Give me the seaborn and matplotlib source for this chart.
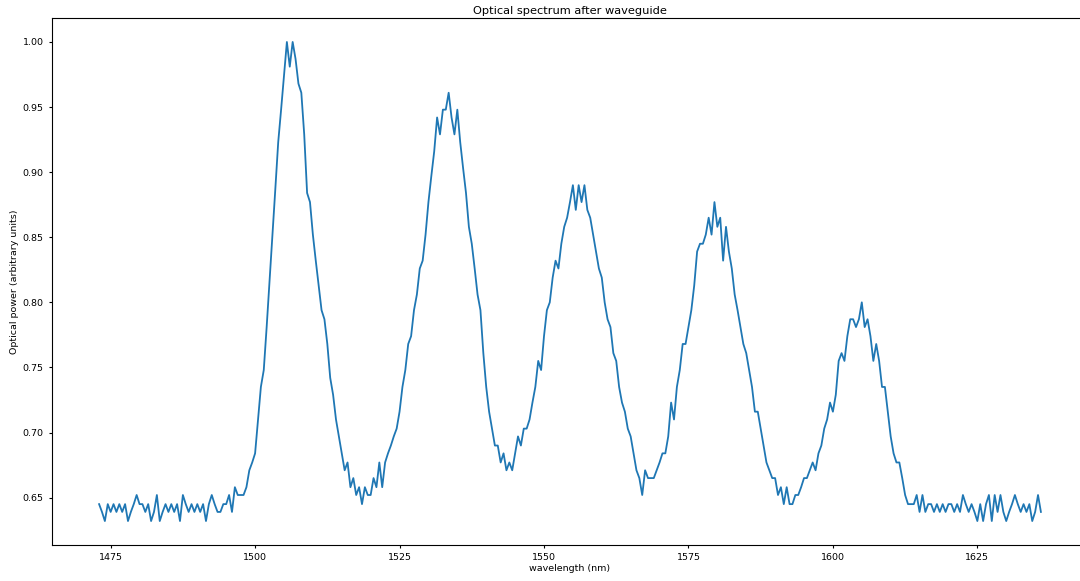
import numpy as np
import pandas as pd
import matplotlib
matplotlib.use("Agg")
import matplotlib.pyplot as plt
from matplotlib.ticker import MultipleLocator
import seaborn as sns

# Wavelength grid (nm): start, stop of the measured spectrum
wl_start = 1473.0
wl_stop = 1636.0

power = [
    0.645, 0.639, 0.632, 0.645, 0.639, 0.645, 0.639, 0.645, 0.639, 0.645,
    0.632, 0.639, 0.645, 0.652, 0.645, 0.645, 0.639, 0.645, 0.632, 0.639,
    0.652, 0.632, 0.639, 0.645, 0.639, 0.645, 0.639, 0.645, 0.632, 0.652,
    0.645, 0.639, 0.645, 0.639, 0.645, 0.639, 0.645, 0.632, 0.645, 0.652,
    0.645, 0.639, 0.639, 0.645, 0.645, 0.652, 0.639, 0.658, 0.652, 0.652,
    0.652, 0.658, 0.671, 0.677, 0.684, 0.710, 0.735, 0.748, 0.781, 0.816,
    0.852, 0.887, 0.923, 0.948, 0.974, 1.000, 0.981, 1.000, 0.987, 0.968,
    0.961, 0.929, 0.884, 0.877, 0.852, 0.832, 0.813, 0.794, 0.787, 0.768,
    0.742, 0.729, 0.710, 0.697, 0.684, 0.671, 0.677, 0.658, 0.665, 0.652,
    0.658, 0.645, 0.658, 0.652, 0.652, 0.665, 0.658, 0.677, 0.658, 0.677,
    0.684, 0.690, 0.697, 0.703, 0.716, 0.735, 0.748, 0.768, 0.774, 0.794,
    0.806, 0.826, 0.832, 0.852, 0.877, 0.897, 0.916, 0.942, 0.929, 0.948,
    0.948, 0.961, 0.942, 0.929, 0.948, 0.923, 0.903, 0.884, 0.858, 0.845,
    0.826, 0.806, 0.794, 0.761, 0.735, 0.716, 0.703, 0.690, 0.690, 0.677,
    0.684, 0.671, 0.677, 0.671, 0.684, 0.697, 0.690, 0.703, 0.703, 0.710,
    0.723, 0.735, 0.755, 0.748, 0.774, 0.794, 0.800, 0.819, 0.832, 0.826,
    0.845, 0.858, 0.865, 0.877, 0.890, 0.871, 0.890, 0.877, 0.890, 0.871,
    0.865, 0.852, 0.839, 0.826, 0.819, 0.800, 0.787, 0.781, 0.761, 0.755,
    0.735, 0.723, 0.716, 0.703, 0.697, 0.684, 0.671, 0.665, 0.652, 0.671,
    0.665, 0.665, 0.665, 0.671, 0.677, 0.684, 0.684, 0.697, 0.723, 0.710,
    0.735, 0.748, 0.768, 0.768, 0.781, 0.794, 0.813, 0.839, 0.845, 0.845,
    0.852, 0.865, 0.852, 0.877, 0.858, 0.865, 0.832, 0.858, 0.839, 0.826,
    0.806, 0.794, 0.781, 0.768, 0.761, 0.748, 0.735, 0.716, 0.716, 0.703,
    0.690, 0.677, 0.671, 0.665, 0.665, 0.652, 0.658, 0.645, 0.658, 0.645,
    0.645, 0.652, 0.652, 0.658, 0.665, 0.665, 0.671, 0.677, 0.671, 0.684,
    0.690, 0.703, 0.710, 0.723, 0.716, 0.729, 0.755, 0.761, 0.755, 0.774,
    0.787, 0.787, 0.781, 0.787, 0.800, 0.781, 0.787, 0.774, 0.755, 0.768,
    0.755, 0.735, 0.735, 0.716, 0.697, 0.684, 0.677, 0.677, 0.665, 0.652,
    0.645, 0.645, 0.645, 0.652, 0.639, 0.652, 0.639, 0.645, 0.645, 0.639,
    0.645, 0.639, 0.645, 0.639, 0.645, 0.645, 0.639, 0.645, 0.639, 0.652,
    0.645, 0.639, 0.645, 0.639, 0.632, 0.645, 0.632, 0.645, 0.652, 0.632,
    0.652, 0.639, 0.652, 0.639, 0.632, 0.639, 0.645, 0.652, 0.645, 0.639,
    0.645, 0.639, 0.645, 0.632, 0.639, 0.652, 0.639,
]

wavelength = np.linspace(wl_start, wl_stop, len(power))
df = pd.DataFrame({"wavelength": wavelength, "power": power})

plt.rcParams.update({
    "font.size": 6.8,
    "xtick.major.size": 2.5,
    "ytick.major.size": 2.5,
    "axes.linewidth": 0.8,
})

fig = plt.figure(figsize=(10.8, 5.81), dpi=100)
ax = fig.add_axes([52 / 1080, 36 / 581, 1036 / 1080, 527 / 581])
sns.lineplot(data=df, x="wavelength", y="power", ax=ax, color="#1f77b4", linewidth=1.3)
ax.xaxis.set_major_locator(MultipleLocator(25))
ax.yaxis.set_major_locator(MultipleLocator(0.05))
ax.set_xlabel("wavelength (nm)")
ax.set_ylabel("Optical power (arbitrary units)")
ax.xaxis.set_label_coords(0.5, -0.036)
ax.yaxis.set_label_coords(-0.032, 0.5)
ax.set_title("Optical spectrum after waveguide", pad=3)
fig.savefig("out.png", dpi=100)
